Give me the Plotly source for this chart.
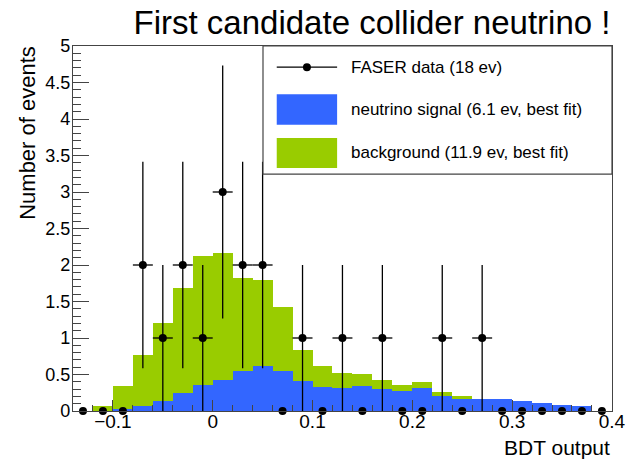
import numpy as np
import plotly.graph_objects as go

# BDT output binning: 27 bins of width 0.02 from -0.14 to 0.40
bin_centers = [-0.13, -0.11, -0.09, -0.07, -0.05, -0.03, -0.01, 0.01, 0.03,
               0.05, 0.07, 0.09, 0.11, 0.13, 0.15, 0.17, 0.19, 0.21, 0.23,
               0.25, 0.27, 0.29, 0.31, 0.33, 0.35, 0.37, 0.39]
bin_width = 0.02

# Observed events per bin (18 total)
data_counts = [0, 0, 0, 2, 1, 2, 1, 3, 2, 2, 0, 1, 0, 1, 0, 1, 0, 0, 1,
               0, 1, 0, 0, 0, 0, 0, 0]

# Best-fit neutrino signal per bin
signal = [0.0, 0.0, 0.03, 0.07, 0.14, 0.24, 0.35, 0.42, 0.55, 0.61, 0.55,
          0.41, 0.33, 0.32, 0.34, 0.30, 0.27, 0.32, 0.21, 0.17, 0.16, 0.16,
          0.14, 0.11, 0.08, 0.07, 0.0]

# Best-fit background per bin (stacked on top of the signal)
background = [0.0, 0.07, 0.31, 0.70, 1.06, 1.45, 1.77, 1.75, 1.27, 1.18,
              0.87, 0.42, 0.28, 0.20, 0.17, 0.13, 0.08, 0.08, 0.05, 0.03,
              0.0, 0.0, 0.0, 0.0, 0.0, 0.0, 0.0]

BLUE = "#3366ff"
GREEN = "#99cc00"
FONT = "Liberation Sans, Arial, sans-serif"

counts = np.array(data_counts, dtype=float)
err_y = np.sqrt(counts)
err_x = np.where(counts > 0, bin_width / 2, 0.0)

fig = go.Figure()
fig.add_trace(go.Bar(x=bin_centers, y=signal, width=bin_width,
                     marker=dict(color=BLUE, line=dict(width=0)),
                     name="neutrino signal (6.1 ev, best fit)"))
fig.add_trace(go.Bar(x=bin_centers, y=background, width=bin_width,
                     marker=dict(color=GREEN, line=dict(width=0)),
                     name="background (11.9 ev, best fit)"))
fig.add_trace(go.Scatter(
    x=bin_centers, y=data_counts, mode="markers",
    marker=dict(color="black", size=8),
    error_y=dict(type="data", array=err_y, color="black", thickness=1.3, width=0),
    error_x=dict(type="data", array=err_x, color="black", thickness=1.3, width=0),
    name="FASER data (18 ev)", cliponaxis=False))

# Bordered legend box in the upper-right corner of the frame
lx0, lx1, ly0, ly1 = 0.3525, 1.0, 0.649, 1.0
shapes = [
    dict(type="rect", xref="paper", yref="paper", x0=lx0, x1=lx1, y0=ly0, y1=ly1,
         fillcolor="white", line=dict(color="#444", width=1.2), layer="above"),
    dict(type="line", xref="paper", yref="paper", x0=0.378, x1=0.490,
         y0=0.942, y1=0.942, line=dict(color="black", width=1.3), layer="above"),
    dict(type="circle", xref="paper", yref="paper",
         x0=0.434 - 4 / 539, x1=0.434 + 4 / 539,
         y0=0.942 - 4 / 365, y1=0.942 + 4 / 365,
         fillcolor="black", line=dict(width=0), layer="above"),
    dict(type="rect", xref="paper", yref="paper", x0=0.378, x1=0.490,
         y0=0.784, y1=0.868, fillcolor=BLUE, line=dict(width=0), layer="above"),
    dict(type="rect", xref="paper", yref="paper", x0=0.378, x1=0.490,
         y0=0.666, y1=0.748, fillcolor=GREEN, line=dict(width=0), layer="above"),
]
legend_rows = [("FASER data (18 ev)", 0.942),
               ("neutrino signal (6.1 ev, best fit)", 0.826),
               ("background (11.9 ev, best fit)", 0.707)]
annotations = [dict(text=t, xref="paper", yref="paper", x=0.512, y=y,
                    xanchor="left", yanchor="middle", showarrow=False,
                    font=dict(family=FONT, size=17, color="black"))
               for t, y in legend_rows]

# Axis titles placed ROOT-style (flush to the end of each axis)
annotations.append(dict(text="Number of events", xref="paper", yref="paper",
                        x=-45 / 539, y=1.006, xanchor="center", yanchor="top",
                        textangle=-90, showarrow=False,
                        font=dict(family=FONT, size=22, color="black")))
annotations.append(dict(text="BDT output", xref="paper", yref="paper",
                        x=1.0, y=-0.062, xanchor="right", yanchor="top",
                        showarrow=False,
                        font=dict(family=FONT, size=21, color="black")))

fig.update_layout(
    width=627, height=459,
    margin=dict(l=73, r=15, t=46, b=48, autoexpand=False),
    paper_bgcolor="white", plot_bgcolor="white",
    barmode="stack", bargap=0, showlegend=False,
    font=dict(family=FONT, color="black"),
    title=dict(text="First candidate collider neutrino !",
               font=dict(family=FONT, size=33, color="black"),
               xref="container", yref="container",
               x=372 / 627, xanchor="center", y=1 - 22 / 459, yanchor="middle"),
    shapes=shapes, annotations=annotations,
)
fig.update_xaxes(range=[-0.14, 0.4001], tickmode="linear", tick0=0, dtick=0.1,
                 ticks="inside", ticklen=11, tickwidth=1, tickcolor="#444",
                 minor=dict(ticks="inside", dtick=0.02, ticklen=6,
                            tickcolor="#444", tickwidth=1),
                 showline=True, linecolor="#444", linewidth=1.2, mirror=True,
                 showgrid=False, zeroline=False, ticklabelstandoff=-7,
                 automargin=False,
                 tickfont=dict(family=FONT, size=19, color="black"))
fig.update_yaxes(range=[0, 5], tickmode="linear", tick0=0, dtick=0.5,
                 ticks="inside", ticklen=16, tickwidth=1, tickcolor="#444",
                 minor=dict(ticks="inside", dtick=0.1, ticklen=8,
                            tickcolor="#444", tickwidth=1),
                 showline=True, linecolor="#444", linewidth=1.2, mirror=True,
                 showgrid=False, zeroline=False, ticklabelstandoff=-2,
                 automargin=False,
                 tickfont=dict(family=FONT, size=18, color="black"))

fig.write_html("out.html")
